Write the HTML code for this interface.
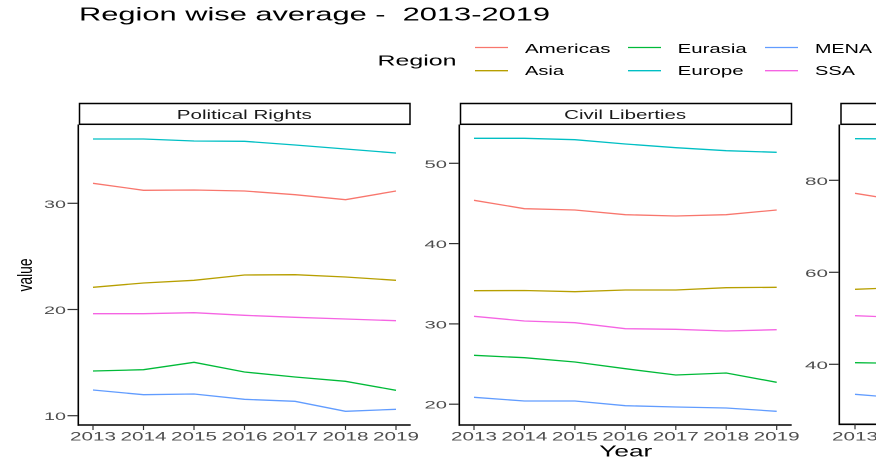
<!DOCTYPE html>
<html><head><meta charset="utf-8"><style>
html,body{margin:0;padding:0;background:#fff;}
svg{display:block;}
text{font-family:"Liberation Sans",Arial,sans-serif;}
</style></head><body>
<svg width="876" height="466" viewBox="0 0 876 466" xmlns="http://www.w3.org/2000/svg">
<rect width="876" height="466" fill="#fff"/>
<!-- Title -->
<text x="79" y="20.7" font-size="18.5" fill="#000" textLength="471" lengthAdjust="spacingAndGlyphs">Region wise average -&#160; 2013-2019</text>
<!-- Legend -->
<text x="377.5" y="65.7" font-size="15" fill="#000" textLength="79" lengthAdjust="spacingAndGlyphs">Region</text>
<g stroke-width="1.3" fill="none">
<line x1="475" y1="47.5" x2="508" y2="47.5" stroke="#F8766D"/>
<line x1="475" y1="70.7" x2="508" y2="70.7" stroke="#B79F00"/>
<line x1="628" y1="47.5" x2="661" y2="47.5" stroke="#00BA38"/>
<line x1="628" y1="70.7" x2="661" y2="70.7" stroke="#00BFC4"/>
<line x1="765" y1="47.5" x2="798" y2="47.5" stroke="#619CFF"/>
<line x1="765" y1="70.7" x2="798" y2="70.7" stroke="#F564E3"/>
</g>
<g font-size="12.5" fill="#000">
<text x="525" y="52.8" textLength="85.5" lengthAdjust="spacingAndGlyphs">Americas</text>
<text x="525" y="75.2" textLength="39" lengthAdjust="spacingAndGlyphs">Asia</text>
<text x="677.7" y="52.8" textLength="69" lengthAdjust="spacingAndGlyphs">Eurasia</text>
<text x="677.7" y="75.2" textLength="66" lengthAdjust="spacingAndGlyphs">Europe</text>
<text x="815" y="52.8" textLength="57" lengthAdjust="spacingAndGlyphs">MENA</text>
<text x="815" y="75.2" textLength="40" lengthAdjust="spacingAndGlyphs">SSA</text>
</g>
<!-- Y axis label -->
<text transform="translate(32,275) rotate(-90)" x="0" y="0" text-anchor="middle" font-size="20" fill="#000" textLength="33" lengthAdjust="spacingAndGlyphs">value</text>
<!-- X axis label -->
<text x="599.3" y="456.7" font-size="16" fill="#000" textLength="53" lengthAdjust="spacingAndGlyphs">Year</text>

<!-- Strips -->
<g fill="#fff" stroke="#000" stroke-width="1.5">
<rect x="79.5" y="103.5" width="330.5" height="20.8"/>
<rect x="460.5" y="103.5" width="331" height="20.8"/>
<rect x="841" y="103.5" width="50" height="20.8"/>
</g>
<text x="244.3" y="119" font-size="12.5" text-anchor="middle" fill="#1a1a1a" textLength="135" lengthAdjust="spacingAndGlyphs">Political Rights</text>
<text x="625.2" y="119" font-size="12.5" text-anchor="middle" fill="#1a1a1a" textLength="122" lengthAdjust="spacingAndGlyphs">Civil Liberties</text>

<!-- Axes -->
<g stroke="#000" stroke-width="1.6" fill="none">
<line x1="78.3" y1="124.5" x2="78.3" y2="425.8"/>
<line x1="77.5" y1="425" x2="410.7" y2="425"/>
<line x1="459.3" y1="124.5" x2="459.3" y2="425.8"/>
<line x1="458.5" y1="425" x2="791.7" y2="425"/>
<line x1="839.3" y1="124.5" x2="839.3" y2="425"/>
<line x1="838.5" y1="424.3" x2="876" y2="424.3"/>
</g>
<!-- Ticks -->
<g stroke="#333" stroke-width="1.2">
<line x1="67.5" y1="203.3" x2="78" y2="203.3"/>
<line x1="67.5" y1="309.5" x2="78" y2="309.5"/>
<line x1="67.5" y1="415.7" x2="78" y2="415.7"/>
<line x1="93" y1="425" x2="93" y2="430"/>
<line x1="143.5" y1="425" x2="143.5" y2="430"/>
<line x1="194" y1="425" x2="194" y2="430"/>
<line x1="244.5" y1="425" x2="244.5" y2="430"/>
<line x1="295" y1="425" x2="295" y2="430"/>
<line x1="345.5" y1="425" x2="345.5" y2="430"/>
<line x1="396" y1="425" x2="396" y2="430"/>

<line x1="449" y1="163.3" x2="459" y2="163.3"/>
<line x1="449" y1="243.6" x2="459" y2="243.6"/>
<line x1="449" y1="323.9" x2="459" y2="323.9"/>
<line x1="449" y1="404.2" x2="459" y2="404.2"/>
<line x1="474" y1="425" x2="474" y2="430"/>
<line x1="524.4" y1="425" x2="524.4" y2="430"/>
<line x1="574.9" y1="425" x2="574.9" y2="430"/>
<line x1="625.3" y1="425" x2="625.3" y2="430"/>
<line x1="675.8" y1="425" x2="675.8" y2="430"/>
<line x1="726.2" y1="425" x2="726.2" y2="430"/>
<line x1="776.7" y1="425" x2="776.7" y2="430"/>

<line x1="829" y1="180.3" x2="839" y2="180.3"/>
<line x1="829" y1="272.3" x2="839" y2="272.3"/>
<line x1="829" y1="364.3" x2="839" y2="364.3"/>
<line x1="855" y1="424.3" x2="855" y2="429.3"/>
</g>
<!-- Tick labels -->
<g font-size="11" fill="#4D4D4D" text-anchor="end">
<text x="66" y="207.8" textLength="22" lengthAdjust="spacingAndGlyphs">30</text>
<text x="66" y="314" textLength="22" lengthAdjust="spacingAndGlyphs">20</text>
<text x="66" y="420.2" textLength="22" lengthAdjust="spacingAndGlyphs">10</text>
<text x="447" y="167.8" textLength="22.5" lengthAdjust="spacingAndGlyphs">50</text>
<text x="447" y="248.1" textLength="22.5" lengthAdjust="spacingAndGlyphs">40</text>
<text x="447" y="328.4" textLength="22.5" lengthAdjust="spacingAndGlyphs">30</text>
<text x="447" y="408.7" textLength="22.5" lengthAdjust="spacingAndGlyphs">20</text>
<text x="828" y="184.8" textLength="23" lengthAdjust="spacingAndGlyphs">80</text>
<text x="828" y="276.8" textLength="23" lengthAdjust="spacingAndGlyphs">60</text>
<text x="828" y="368.8" textLength="23" lengthAdjust="spacingAndGlyphs">40</text>
</g>
<g font-size="11.5" fill="#4D4D4D" text-anchor="middle">
<text x="93" y="440.3" textLength="46" lengthAdjust="spacingAndGlyphs">2013</text>
<text x="143.5" y="440.3" textLength="46" lengthAdjust="spacingAndGlyphs">2014</text>
<text x="194" y="440.3" textLength="46" lengthAdjust="spacingAndGlyphs">2015</text>
<text x="244.5" y="440.3" textLength="46" lengthAdjust="spacingAndGlyphs">2016</text>
<text x="295" y="440.3" textLength="46" lengthAdjust="spacingAndGlyphs">2017</text>
<text x="345.5" y="440.3" textLength="46" lengthAdjust="spacingAndGlyphs">2018</text>
<text x="396" y="440.3" textLength="46" lengthAdjust="spacingAndGlyphs">2019</text>
<text x="474" y="440.3" textLength="46" lengthAdjust="spacingAndGlyphs">2013</text>
<text x="524.4" y="440.3" textLength="46" lengthAdjust="spacingAndGlyphs">2014</text>
<text x="574.9" y="440.3" textLength="46" lengthAdjust="spacingAndGlyphs">2015</text>
<text x="625.3" y="440.3" textLength="46" lengthAdjust="spacingAndGlyphs">2016</text>
<text x="675.8" y="440.3" textLength="46" lengthAdjust="spacingAndGlyphs">2017</text>
<text x="726.2" y="440.3" textLength="46" lengthAdjust="spacingAndGlyphs">2018</text>
<text x="776.7" y="440.3" textLength="46" lengthAdjust="spacingAndGlyphs">2019</text>
<text x="855" y="440.3" textLength="46" lengthAdjust="spacingAndGlyphs">2013</text>
</g>

<!-- Series panel 1 -->
<g fill="none" stroke-width="1.3" stroke-linejoin="round">
<polyline stroke="#00BFC4" points="93,139 143.5,139 194,141 244.5,141.3 295,145 345.5,149 396,153"/>
<polyline stroke="#F8766D" points="93,183.3 143.5,190.3 194,190 244.5,191 295,194.7 345.5,199.7 396,191"/>
<polyline stroke="#B79F00" points="93,287.3 143.5,283 194,280.3 244.5,275 295,274.7 345.5,277 396,280.3"/>
<polyline stroke="#F564E3" points="93,313.7 143.5,313.7 194,312.7 244.5,315.3 295,317.3 345.5,319 396,320.7"/>
<polyline stroke="#00BA38" points="93,371 143.5,369.7 194,362.3 244.5,372 295,377 345.5,381.3 396,390.3"/>
<polyline stroke="#619CFF" points="93,390 143.5,394.7 194,394 244.5,399.3 295,401.3 345.5,411.3 396,409.3"/>

<!-- Series panel 2 -->
<polyline stroke="#00BFC4" points="474,138.3 524.4,138.3 574.9,139.7 625.3,144 675.8,147.7 726.2,150.7 776.7,152.3"/>
<polyline stroke="#F8766D" points="474,200.3 524.4,208.7 574.9,210 625.3,214.7 675.8,216 726.2,214.7 776.7,210"/>
<polyline stroke="#B79F00" points="474,290.7 524.4,290.5 574.9,291.7 625.3,290 675.8,290 726.2,287.7 776.7,287.3"/>
<polyline stroke="#F564E3" points="474,316.3 524.4,321 574.9,322.7 625.3,328.7 675.8,329.3 726.2,331 776.7,329.7"/>
<polyline stroke="#00BA38" points="474,355.3 524.4,357.7 574.9,362 625.3,368.7 675.8,375 726.2,373 776.7,382.3"/>
<polyline stroke="#619CFF" points="474,397.3 524.4,401 574.9,401 625.3,405.7 675.8,407 726.2,408 776.7,411.3"/>

<!-- Series panel 3 (clipped) -->
<polyline stroke="#00BFC4" points="855,138.7 905,139"/>
<polyline stroke="#F8766D" points="855,193.3 905,201.4"/>
<polyline stroke="#B79F00" points="855,289.3 905,287.4"/>
<polyline stroke="#F564E3" points="855,315.7 905,317.6"/>
<polyline stroke="#00BA38" points="855,362.7 905,363.4"/>
<polyline stroke="#619CFF" points="855,394.3 905,398.3"/>
</g>
</svg>
</body></html>
